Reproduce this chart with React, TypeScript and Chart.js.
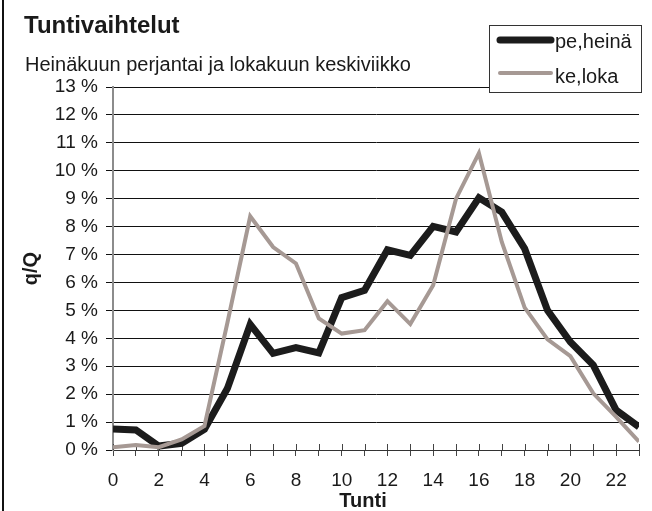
import React, { useEffect, useRef } from "react";
import { Chart, registerables } from "chart.js";

Chart.register(...registerables);

const TITLE = "Tuntivaihtelut";
const SUBTITLE = "Heinäkuun perjantai ja lokakuun keskiviikko";
const X_TITLE = "Tunti";
const Y_TITLE = "q/Q";

const hours = [0, 1, 2, 3, 4, 5, 6, 7, 8, 9, 10, 11, 12, 13, 14, 15, 16, 17, 18, 19, 20, 21, 22, 23];
const seriesNames = ["pe,heinä", "ke,loka"];
const peHeina = [0.75, 0.72, 0.14, 0.24, 0.74, 2.2, 4.5, 3.46, 3.67, 3.48, 5.46, 5.72, 7.17, 6.97, 8.01, 7.81, 9.03, 8.52, 7.21, 5.0, 3.87, 3.04, 1.43, 0.83];
const keLoka = [0.1, 0.18, 0.1, 0.38, 0.86, 4.55, 8.37, 7.27, 6.68, 4.71, 4.17, 4.29, 5.33, 4.51, 5.9, 9.0, 10.63, 7.45, 5.1, 3.96, 3.36, 2.03, 1.19, 0.3];
const yMin = 0;
const yMax = 13;

const BLACK = "#1c1c1c";
const GREY = "#a69994";
const FONT = "'Liberation Sans', Arial, sans-serif";

const decor = {
  id: "decor",
  beforeDatasetsDraw(chart: any) {
    const ctx = chart.ctx;
    const xs = chart.scales.x;
    const bottom = chart.chartArea.bottom;
    ctx.save();
    ctx.strokeStyle = "#444";
    ctx.lineWidth = 1;
    for (const h of hours) {
      const px = Math.round(xs.getPixelForValue(h)) + 0.5;
      ctx.beginPath();
      ctx.moveTo(px, bottom - 6);
      ctx.lineTo(px, bottom);
      ctx.stroke();
    }
    ctx.restore();
  },
  afterDraw(chart: any) {
    const ctx = chart.ctx;
    const area = chart.chartArea;
    ctx.save();
    // outer left border
    ctx.fillStyle = "#111";
    ctx.fillRect(2, 0, 2, chart.height);

    // title
    ctx.fillStyle = "#1a1a1a";
    ctx.textBaseline = "alphabetic";
    ctx.textAlign = "left";
    ctx.font = `bold 24px ${FONT}`;
    ctx.fillText(TITLE, 24, 33);
    ctx.font = `20px ${FONT}`;
    ctx.fillText(SUBTITLE, 25, 71);

    // axis titles
    ctx.font = `bold 20px ${FONT}`;
    ctx.textAlign = "center";
    ctx.textBaseline = "middle";
    ctx.fillText(X_TITLE, 363, 501);
    ctx.save();
    ctx.translate(31, (area.top + area.bottom) / 2);
    ctx.rotate(-Math.PI / 2);
    ctx.fillText(Y_TITLE, 0, 0);
    ctx.restore();

    // legend
    const lx = 489.5, ly = 25.5, lw = 152, lh = 67;
    ctx.fillStyle = "#fff";
    ctx.fillRect(lx, ly, lw, lh);
    ctx.strokeStyle = "#333";
    ctx.lineWidth = 1;
    ctx.strokeRect(lx, ly, lw, lh);
    const ds = chart.data.datasets;
    const rows = [40, 73];
    const textY = [48, 82.5];
    ds.forEach((d: any, i: number) => {
      ctx.strokeStyle = d.borderColor;
      ctx.lineWidth = i === 0 ? 7 : 4;
      ctx.lineCap = "round";
      ctx.beginPath();
      ctx.moveTo(500, rows[i]);
      ctx.lineTo(551, rows[i]);
      ctx.stroke();
      ctx.fillStyle = "#1a1a1a";
      ctx.font = `20px ${FONT}`;
      ctx.textAlign = "left";
      ctx.textBaseline = "alphabetic";
      ctx.fillText(d.label, 555, textY[i]);
    });
    ctx.restore();
  },
};

export default function App() {
  const ref = useRef<HTMLCanvasElement | null>(null);
  useEffect(() => {
    if (!ref.current) return;
    const chart = new Chart(ref.current, {
      type: "line",
      data: {
        labels: hours,
        datasets: [
          {
            label: seriesNames[0],
            data: hours.map((h, i) => ({ x: h, y: peHeina[i] })),
            borderColor: BLACK,
            borderWidth: 7,
            pointRadius: 0,
            tension: 0,
            order: 1,
          },
          {
            label: seriesNames[1],
            data: hours.map((h, i) => ({ x: h, y: keLoka[i] })),
            borderColor: GREY,
            borderWidth: 4,
            pointRadius: 0,
            tension: 0,
            order: 0,
          },
        ],
      },
      options: {
        responsive: false,
        animation: false,
        devicePixelRatio: 1,
        layout: { padding: { top: 87, right: 11, left: 0, bottom: 0 } },
        plugins: {
          legend: { display: false },
          title: { display: false },
          tooltip: { enabled: false },
        },
        scales: {
          x: {
            type: "linear",
            min: 0,
            max: 23,
            afterFit: (s: any) => {
              s.height = 61;
            },
            border: { display: true, color: "#333", width: 1 },
            grid: { drawOnChartArea: false, drawTicks: true, tickLength: 6, color: "#444" },
            ticks: {
              stepSize: 1,
              autoSkip: false,
              maxRotation: 0,
              padding: 13,
              color: "#1a1a1a",
              font: { family: FONT, size: 19 },
              callback: (v: any) => (Number(v) % 2 === 0 ? String(v) : ""),
            },
          },
          y: {
            min: yMin,
            max: yMax,
            afterFit: (s: any) => {
              s.width = 113;
            },
            border: { display: true, color: "#8c8c8c", width: 2 },
            grid: { color: "#111", lineWidth: 1, tickLength: 7 },
            ticks: {
              stepSize: 1,
              padding: 8,
              color: "#1a1a1a",
              font: { family: FONT, size: 19 },
              callback: (v: any) => `${v} %`,
            },
          },
        },
      },
      plugins: [decor],
    });
    return () => chart.destroy();
  }, []);
  return (
    <div style={{ position: "fixed", left: 0, top: 0, width: 652, height: 511, background: "#fff" }}>
      <canvas ref={ref} width={652} height={511} />
    </div>
  );
}
